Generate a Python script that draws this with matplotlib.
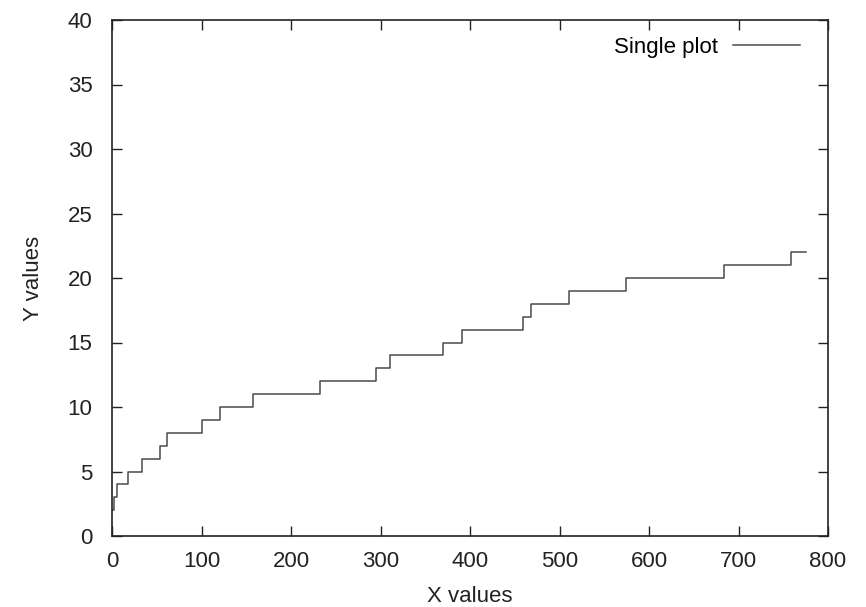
import matplotlib
matplotlib.use("Agg")
import matplotlib.pyplot as plt

# step change points
x_steps = [0, 2, 6, 18, 34, 54, 61, 101, 121, 157, 232, 295, 311, 370, 391,
           459, 468, 511, 574, 684, 759, 775]
y_steps = [2, 3, 4, 5, 6, 7, 8, 9, 10, 11, 12, 13, 14, 15, 16,
           17, 18, 19, 20, 21, 22, 22]

x_ticks = [0, 100, 200, 300, 400, 500, 600, 700, 800]
y_ticks = [0, 5, 10, 15, 20, 25, 30, 35, 40]

plt.rcParams['font.family'] = ['Liberation Sans', 'DejaVu Sans']

fig = plt.figure(figsize=(8.66, 6.07), dpi=100)
ax = fig.add_axes([112 / 866, 1 - 536 / 607, (828 - 112) / 866, (536 - 20) / 607])

ax.step(x_steps, y_steps, where='post', color='#4a4a4a', lw=1.1, label='Single plot')

ax.set_xlim(0, 800)
ax.set_ylim(0, 40)
ax.set_xticks(x_ticks)
ax.set_yticks(y_ticks)
ax.tick_params(direction='in', length=7, width=1, top=True, right=True,
               labelsize=16, colors='#222222')
ax.tick_params(axis='x', pad=11)
ax.tick_params(axis='y', pad=14)
for s in ax.spines.values():
    s.set_linewidth(1.2)
    s.set_color('#222222')

ax.set_xlabel('X values', fontsize=16, color='#222222', labelpad=10)
ax.set_ylabel('Y values', fontsize=16, color='#222222', labelpad=17)

ax.legend(loc='upper right', frameon=False, markerfirst=False, fontsize=16,
          handlelength=3.0, handletextpad=0.7, borderaxespad=0.0,
          bbox_to_anchor=(0.973, 0.985))

fig.savefig('out.png', dpi=100)
